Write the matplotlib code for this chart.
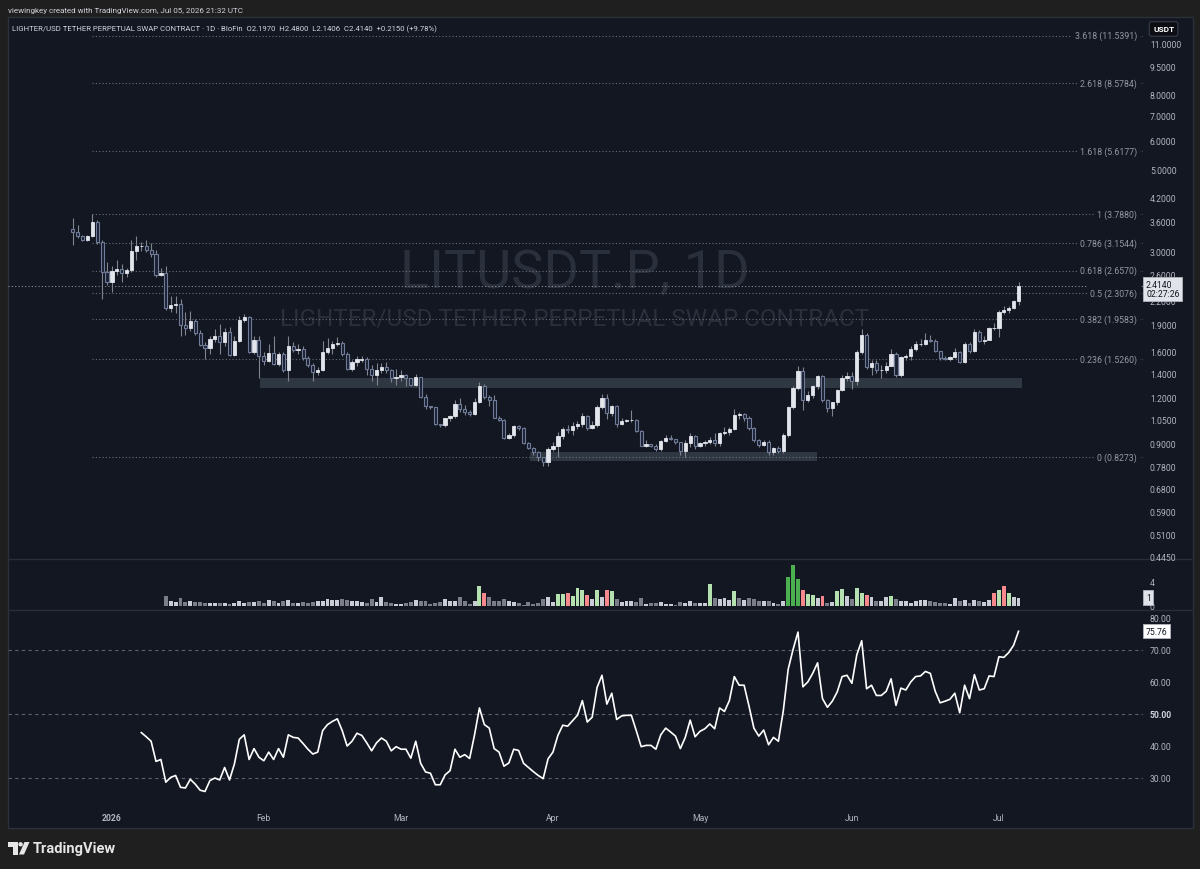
import numpy as np
import pandas as pd
import matplotlib
matplotlib.use("Agg")
import matplotlib.pyplot as plt
import matplotlib.dates as mdates
from matplotlib.patches import Rectangle, Polygon, Circle
from matplotlib.ticker import FixedLocator, NullLocator, FuncFormatter
from matplotlib.transforms import blended_transform_factory

plt.rcParams['font.family'] = ['Roboto', 'DejaVu Sans']

# ---- data ----
dates = pd.date_range('2025-12-24', periods=194, freq='D')

opens = [3.45, 3.38, 3.29, 3.22, 3.29, 3.59, 3.18, 2.63, 2.48, 2.65,
         2.68, 2.62, 2.66, 3.00, 3.09, 3.09, 3.03, 2.95, 2.59, 2.62,
         2.10, 2.14, 2.16, 1.89, 1.85, 1.94, 1.80, 1.67, 1.64, 1.73,
         1.76, 1.70, 1.81, 1.57, 1.71, 1.95, 1.99, 1.60, 1.72, 1.56,
         1.51, 1.59, 1.48, 1.58, 1.43, 1.66, 1.62, 1.63, 1.54, 1.47,
         1.41, 1.43, 1.60, 1.64, 1.68, 1.69, 1.58, 1.44, 1.50, 1.52,
         1.53, 1.44, 1.38, 1.43, 1.45, 1.425, 1.356, 1.37, 1.38, 1.356,
         1.30, 1.367, 1.203, 1.138, 1.129, 1.017, 1.013, 1.056, 1.073, 1.152,
         1.12, 1.10, 1.085, 1.167, 1.295, 1.203, 1.186, 1.06, 1.047, 0.935,
         0.951, 1.004, 0.992, 0.905, 0.879, 0.853, 0.826, 0.805, 0.871, 0.890,
         0.943, 0.988, 0.98, 1.004, 1.017, 1.073, 0.996, 1.013, 1.133, 1.196,
         1.092, 1.14, 1.021, 1.039, 1.043, 1.047, 0.975, 0.890, 0.897, 0.890,
         0.871, 0.918, 0.935, 0.928, 0.909, 0.860, 0.905, 0.947, 0.886, 0.905,
         0.909, 0.920, 0.903, 0.963, 0.970, 0.988, 1.078, 1.085, 1.056, 0.992,
         0.920, 0.893, 0.912, 0.853, 0.875, 0.861, 0.951, 1.133, 1.273, 1.419,
         1.181, 1.221, 1.289, 1.373, 1.181, 1.124, 1.166, 1.258, 1.356, 1.373,
         1.333, 1.595, 1.777, 1.455, 1.492, 1.425, 1.431, 1.467, 1.575, 1.384,
         1.549, 1.555, 1.628, 1.677, 1.684, 1.726, 1.712, 1.608, 1.536, 1.530,
         1.549, 1.601, 1.504, 1.684, 1.608, 1.815, 1.712, 1.726, 1.853, 1.860,
         2.056, 2.073, 2.108, 2.197]
highs = [3.68, 3.53, 3.31, 3.31, 3.788, 3.64, 3.22, 2.81, 2.74, 2.83,
         2.76, 2.70, 3.21, 3.29, 3.18, 3.21, 3.16, 3.02, 2.70, 2.73,
         2.27, 2.27, 2.23, 2.05, 2.06, 1.96, 1.83, 1.70, 1.77, 1.84,
         1.90, 1.85, 1.87, 1.77, 2.00, 2.02, 2.00, 1.77, 1.76, 1.60,
         1.68, 1.76, 1.60, 1.60, 1.76, 1.70, 1.68, 1.66, 1.56, 1.49,
         1.45, 1.71, 1.74, 1.71, 1.75, 1.71, 1.60, 1.52, 1.56, 1.56,
         1.55, 1.47, 1.49, 1.49, 1.50, 1.44, 1.44, 1.43, 1.39, 1.36,
         1.39, 1.37, 1.23, 1.14, 1.13, 1.02, 1.06, 1.08, 1.18, 1.20,
         1.15, 1.11, 1.20, 1.32, 1.31, 1.22, 1.22, 1.07, 1.05, 0.96,
         1.01, 1.01, 1.00, 0.91, 0.88, 0.86, 0.83, 0.88, 0.91, 0.97,
         1.00, 1.01, 1.03, 1.04, 1.09, 1.08, 1.04, 1.15, 1.23, 1.23,
         1.15, 1.15, 1.06, 1.05, 1.11, 1.05, 0.98, 0.92, 0.90, 0.90,
         0.92, 0.95, 0.95, 0.93, 0.91, 0.92, 0.96, 0.95, 0.91, 0.92,
         0.94, 0.96, 0.97, 1.00, 1.00, 1.12, 1.10, 1.09, 1.07, 1.00,
         0.93, 0.92, 0.92, 0.88, 0.89, 0.96, 1.14, 1.29, 1.46, 1.45,
         1.25, 1.30, 1.38, 1.38, 1.19, 1.17, 1.27, 1.38, 1.41, 1.41,
         1.62, 1.84, 1.80, 1.52, 1.52, 1.47, 1.50, 1.63, 1.60, 1.56,
         1.58, 1.66, 1.71, 1.73, 1.80, 1.78, 1.73, 1.61, 1.56, 1.56,
         1.64, 1.61, 1.70, 1.70, 1.84, 1.83, 1.76, 1.87, 1.92, 2.08,
         2.13, 2.13, 2.21, 2.48]
lows = [3.11, 3.25, 3.20, 3.20, 3.27, 3.14, 2.23, 2.43, 2.33, 2.58,
        2.48, 2.55, 2.63, 2.83, 3.00, 2.99, 2.90, 2.55, 2.57, 2.08,
        2.05, 2.04, 1.77, 1.78, 1.82, 1.78, 1.66, 1.53, 1.58, 1.70,
        1.58, 1.66, 1.56, 1.56, 1.70, 1.93, 1.59, 1.58, 1.36, 1.47,
        1.50, 1.47, 1.46, 1.41, 1.33, 1.60, 1.58, 1.52, 1.45, 1.33,
        1.38, 1.42, 1.58, 1.58, 1.66, 1.56, 1.43, 1.42, 1.46, 1.50,
        1.38, 1.33, 1.30, 1.40, 1.40, 1.32, 1.30, 1.33, 1.29, 1.29,
        1.29, 1.20, 1.12, 1.12, 1.01, 1.00, 1.00, 1.04, 1.06, 1.10,
        1.08, 1.07, 1.08, 1.16, 1.19, 1.14, 1.055, 1.04, 0.93, 0.93,
        0.94, 0.98, 0.90, 0.87, 0.84, 0.81, 0.785, 0.785, 0.86, 0.83,
        0.93, 0.96, 0.95, 0.99, 1.00, 0.98, 0.99, 1.00, 1.12, 1.05,
        1.07, 1.00, 1.01, 1.03, 1.03, 0.97, 0.885, 0.88, 0.88, 0.86,
        0.86, 0.91, 0.92, 0.90, 0.84, 0.83, 0.88, 0.87, 0.88, 0.89,
        0.90, 0.89, 0.89, 0.95, 0.95, 0.98, 1.05, 1.04, 0.98, 0.91,
        0.88, 0.89, 0.84, 0.84, 0.85, 0.85, 0.94, 1.12, 1.26, 1.11,
        1.17, 1.20, 1.27, 1.17, 1.10, 1.07, 1.15, 1.25, 1.33, 1.27,
        1.30, 1.58, 1.44, 1.38, 1.40, 1.36, 1.40, 1.46, 1.37, 1.37,
        1.52, 1.52, 1.61, 1.66, 1.67, 1.70, 1.60, 1.52, 1.52, 1.51,
        1.54, 1.49, 1.49, 1.59, 1.60, 1.70, 1.68, 1.72, 1.83, 1.75,
        2.03, 2.04, 2.09, 2.1406]
closes = [3.38, 3.29, 3.22, 3.29, 3.59, 3.18, 2.63, 2.48, 2.65, 2.68,
          2.62, 2.66, 3.00, 3.09, 3.09, 3.03, 2.95, 2.59, 2.62, 2.10,
          2.14, 2.16, 1.89, 1.85, 1.94, 1.80, 1.67, 1.64, 1.73, 1.76,
          1.70, 1.81, 1.57, 1.71, 1.95, 1.99, 1.60, 1.72, 1.56, 1.51,
          1.59, 1.48, 1.58, 1.43, 1.66, 1.62, 1.63, 1.54, 1.47, 1.41,
          1.43, 1.60, 1.64, 1.68, 1.69, 1.58, 1.44, 1.50, 1.53, 1.53,
          1.44, 1.38, 1.43, 1.45, 1.425, 1.356, 1.37, 1.38, 1.356, 1.30,
          1.367, 1.203, 1.138, 1.129, 1.017, 1.013, 1.056, 1.073, 1.152, 1.12,
          1.10, 1.085, 1.167, 1.295, 1.203, 1.186, 1.06, 1.047, 0.935, 0.951,
          1.004, 0.992, 0.905, 0.879, 0.853, 0.826, 0.805, 0.871, 0.890, 0.943,
          0.988, 0.98, 1.004, 1.017, 1.073, 0.996, 1.013, 1.133, 1.196, 1.092,
          1.14, 1.021, 1.039, 1.043, 1.047, 0.975, 0.890, 0.897, 0.890, 0.871,
          0.918, 0.935, 0.928, 0.909, 0.860, 0.905, 0.947, 0.886, 0.905, 0.909,
          0.920, 0.903, 0.963, 0.970, 0.988, 1.078, 1.085, 1.056, 0.992, 0.920,
          0.893, 0.912, 0.853, 0.875, 0.861, 0.951, 1.133, 1.273, 1.419, 1.181,
          1.221, 1.289, 1.373, 1.181, 1.124, 1.166, 1.258, 1.356, 1.373, 1.333,
          1.595, 1.777, 1.455, 1.492, 1.425, 1.431, 1.467, 1.575, 1.384, 1.549,
          1.555, 1.628, 1.677, 1.684, 1.726, 1.712, 1.608, 1.536, 1.530, 1.549,
          1.601, 1.504, 1.684, 1.608, 1.815, 1.712, 1.726, 1.853, 1.860, 2.056,
          2.073, 2.108, 2.197, 2.414]

vol_start = '2026-01-12'
volumes = [1.6, 0.9, 0.6, 1.4, 0.7, 0.8, 0.6, 0.6, 0.55, 0.5,
           0.45, 0.5, 0.45, 0.33, 0.5, 0.9, 0.45, 0.67, 0.6, 0.78,
           0.55, 1.0, 0.83, 0.5, 0.9, 1.0, 0.55, 0.55, 0.6, 0.5,
           0.67, 0.9, 0.9, 1.1, 1.0, 0.95, 1.1, 1.0, 0.9, 0.9,
           0.6, 0.45, 1.1, 0.67, 1.5, 0.6, 0.5, 0.4, 0.28, 0.5,
           0.67, 1.0, 0.78, 0.78, 0.28, 0.5, 0.67, 1.2, 0.9, 0.9,
           1.45, 0.78, 0.28, 0.9, 3.3, 2.2, 1.55, 0.9, 0.9, 1.2,
           0.9, 0.67, 0.5, 0.22, 0.67, 0.4, 0.5, 1.2, 1.5, 0.67,
           1.95, 2.05, 2.2, 1.7, 3.0, 2.6, 1.8, 1.1, 2.6, 1.5,
           2.6, 2.5, 1.2, 0.67, 0.9, 0.8, 0.67, 1.33, 0.4, 0.5,
           0.45, 0.67, 0.33, 0.28, 0.17, 0.67, 0.45, 0.78, 0.5, 0.5,
           0.5, 3.6, 1.33, 1.1, 1.33, 1.05, 2.5, 1.33, 1.0, 1.33,
           1.2, 0.78, 0.9, 0.78, 0.45, 0.28, 0.9, 4.9, 6.9, 4.55,
           2.7, 2.0, 1.8, 1.4, 1.7, 0.45, 0.67, 2.5, 2.8, 1.6,
           1.1, 2.95, 2.1, 1.8, 1.5, 0.78, 0.9, 1.5, 1.67, 1.1,
           0.78, 0.78, 0.5, 0.78, 1.0, 1.0, 0.78, 0.67, 0.45, 0.45,
           0.33, 1.33, 0.78, 1.0, 0.55, 1.0, 0.9, 0.67, 1.0, 2.1,
           2.6, 3.3, 2.1, 1.5, 1.4]
vol_kind = ['down', 'up', 'up', 'down', 'down', 'up', 'down', 'down', 'down', 'up',
            'up', 'down', 'up', 'down', 'up', 'up', 'up', 'down', 'up', 'down',
            'down', 'up', 'down', 'up', 'down', 'up', 'down', 'up', 'down', 'down',
            'down', 'up', 'up', 'up', 'up', 'up', 'down', 'down', 'up', 'up',
            'up', 'down', 'down', 'up', 'up', 'down', 'down', 'up', 'up', 'down',
            'down', 'up', 'down', 'down', 'down', 'down', 'down', 'up', 'up', 'up',
            'down', 'down', 'down', 'up', 'hi_up', 'hi_down', 'down', 'down', 'down', 'down',
            'up', 'up', 'down', 'down', 'down', 'down', 'down', 'down', 'up', 'up',
            'hi_up', 'hi_up', 'hi_down', 'hi_up', 'hi_up', 'hi_up', 'hi_down', 'up', 'hi_up', 'up',
            'hi_down', 'hi_up', 'down', 'up', 'up', 'up', 'down', 'down', 'up', 'down',
            'down', 'up', 'up', 'up', 'down', 'down', 'up', 'up', 'down', 'up',
            'up', 'hi_up', 'down', 'up', 'up', 'up', 'hi_up', 'down', 'up', 'down',
            'down', 'down', 'up', 'down', 'up', 'down', 'up', 'max_up', 'max_up', 'max_up',
            'hi_down', 'hi_up', 'hi_up', 'up', 'hi_down', 'down', 'up', 'hi_up', 'hi_up', 'up',
            'down', 'hi_up', 'hi_up', 'hi_down', 'up', 'down', 'up', 'up', 'hi_up', 'down',
            'up', 'up', 'up', 'up', 'up', 'up', 'down', 'down', 'down', 'down',
            'up', 'up', 'down', 'up', 'down', 'up', 'down', 'up', 'up', 'hi_down',
            'hi_up', 'hi_down', 'hi_up', 'up', 'up']

rsi_start = '2026-01-07'
rsi = [44.1, 42.8, 41.4, 35.1, 35.7, 28.6, 30.1, 30.7, 27.0, 26.8,
       29.5, 28.0, 26.1, 25.7, 29.1, 29.9, 29.3, 33.2, 29.3, 34.3,
       42.0, 43.4, 35.7, 39.1, 36.4, 35.3, 38.0, 35.7, 39.1, 36.4,
       43.4, 42.6, 42.4, 40.7, 38.9, 37.4, 38.0, 44.7, 46.6, 47.6,
       48.4, 44.7, 39.9, 41.4, 43.9, 43.2, 40.9, 38.4, 40.9, 42.4,
       41.4, 38.4, 39.7, 38.9, 38.9, 36.1, 41.4, 34.5, 31.8, 31.4,
       27.8, 27.8, 30.9, 32.2, 38.9, 36.4, 37.2, 36.0, 43.4, 51.8,
       46.6, 45.5, 39.1, 38.0, 33.6, 34.6, 38.9, 38.5, 34.5, 33.2,
       31.9, 30.7, 29.7, 35.9, 38.0, 43.2, 46.4, 46.1, 47.8,
       49.5, 54.1, 47.4, 48.9, 58.2, 62.0, 53.0, 56.4, 48.2, 49.3,
       49.5, 49.5, 44.7, 39.7, 40.1, 40.1, 38.9, 43.4, 45.5, 44.3,
       43.0, 39.1, 42.6, 48.0, 42.8, 44.5, 45.3, 46.8, 45.3, 51.8,
       50.7, 54.1, 61.6, 58.9, 58.9, 52.4, 45.5, 43.0, 44.9, 40.3,
       42.6, 41.4, 50.9, 63.9, 70.1, 75.5, 58.4, 59.9, 62.6, 65.9,
       54.7, 52.0, 53.9, 56.8, 61.6, 62.0, 59.5, 68.4, 72.8, 57.8,
       58.9, 55.7, 55.7, 57.0, 60.9, 52.6, 58.0, 57.4, 59.9, 61.6,
       61.8, 63.2, 62.6, 57.0, 53.4, 53.9, 54.5, 56.4, 50.3, 58.9,
       54.7, 62.2, 57.4, 57.8, 61.8, 61.6, 67.8, 67.6, 69.1, 71.4,
       75.76]

fib_ratios = [0, 0.236, 0.382, 0.5, 0.618, 0.786, 1, 1.618, 2.618, 3.618]
fib_prices = [0.8273, 1.5260, 1.9583, 2.3076, 2.6570, 3.1544, 3.7880, 5.6177, 8.5784, 11.5391]
fib_from = '2025-12-28'

zone_start = ['2026-01-31 06:00', '2026-03-27 06:00']
zone_end = ['2026-07-05 16:00', '2026-05-24 20:00']
zone_low = [1.276, 0.809]
zone_high = [1.358, 0.855]

price_ticks = [0.445, 0.51, 0.59, 0.68, 0.78, 0.9, 1.05, 1.2, 1.4, 1.6, 1.9, 2.2,
               2.6, 3.0, 3.6, 4.2, 5.0, 6.0, 7.0, 8.0, 9.5, 11.0]
rsi_ticks = [30, 40, 50, 60, 70, 80]
rsi_levels = [30, 50, 70]
month_ticks = ['2026-01-01', '2026-02-01', '2026-03-01', '2026-04-01',
               '2026-05-01', '2026-06-01', '2026-07-01']
month_labels = ['2026', 'Feb', 'Mar', 'Apr', 'May', 'Jun', 'Jul']

# ---- colours ----
OUTER = '#1f1f1f'
PANEL = '#131722'
GRID = '#2a2e39'
TXT = '#b2b5be'
UP = '#e3e5ec'
DOWN_FACE = '#1b2131'
DOWN_EDGE = '#6f7c99'
WICK = '#80848f'
WATERMARK = '#2a2f3c'
VOL_COL = {'up': '#c9ccd4', 'down': '#7b7e88', 'hi_up': '#b5e0b0',
           'max_up': '#4caf50', 'hi_down': '#f7898d'}

W, H = 1200, 870
fig = plt.figure(figsize=(12, 8.7), dpi=100)
fig.patch.set_facecolor(OUTER)


def px_axes(x0, y0, x1, y1):
    return fig.add_axes([x0 / W, 1 - y1 / H, (x1 - x0) / W, (y1 - y0) / H])


# pixel space background layer
bg = px_axes(0, 0, W, H)
bg.set_xlim(0, W)
bg.set_ylim(H, 0)
bg.axis('off')
bg.set_zorder(-5)
bg.add_patch(Rectangle((7.5, 17.5), 1185, 811, facecolor=PANEL, edgecolor='#2c303b', lw=1))
bg.hlines([560, 611], 8, 1192, color=GRID, lw=1)
bg.text(8, 11, 'viewingkey created with TradingView.com, Jul 05, 2026 21:32 UTC',
        color='#d1d4dc', fontsize=5.8, va='center')
bg.text(12, 29.5, 'LIGHTER/USD TETHER PERPETUAL SWAP CONTRACT · 1D · BloFin  O2.1970  H2.4800  '
        'L2.1406  C2.4140  +0.2150 (+9.78%)', color='#d1d4dc', fontsize=5.6, va='center')
bg.text(575, 273, 'LITUSDT.P, 1D', color=WATERMARK, fontsize=39,
        ha='center', va='center')
bg.text(575, 319, 'LIGHTER/USD TETHER PERPETUAL SWAP CONTRACT', color=WATERMARK, fontsize=17.5,
        ha='center', va='center')
# TradingView footer logo
bg.add_patch(Polygon([(8, 843), (17.5, 843), (17.5, 855.5), (13, 855.5), (13, 847.5), (8, 847.5)],
                     closed=True, fc='#e6e6e6', ec='none'))
bg.add_patch(Circle((20.6, 845.3), 2.2, fc='#e6e6e6', ec='none'))
bg.add_patch(Polygon([(24.5, 843), (29.5, 843), (24, 855.5), (19, 855.5)], closed=True,
                     fc='#e6e6e6', ec='none'))
bg.text(33, 849.5, 'TradingView', color='#e6e6e6', fontsize=10.5, fontweight='bold', va='center')

fig.text(1153 / W, 1 - 30 / H, 'USDT', color='white', fontsize=6, fontweight='bold', va='center',
         bbox=dict(boxstyle='round,pad=0.45,rounding_size=0.3', fc='#0c0e14', ec='#3a3e4a', lw=0.8))

x = mdates.date2num(dates)
x0 = x[0]
xlim = (x0 - 13.2, x0 + 218.4)

# ---- price pane ----
ax = px_axes(8, 18, 1143, 560)
ax.set_facecolor('none')
ax.set_yscale('log')
ax.set_ylim(0.438, 12.96)
ax.set_xlim(*xlim)
for s in ax.spines.values():
    s.set_visible(False)
ax.set_xticks([])
ax.yaxis.set_major_locator(FixedLocator(price_ticks))
ax.yaxis.set_minor_locator(NullLocator())
ax.yaxis.set_major_formatter(FuncFormatter(lambda v, p: f'{v:.4f}'))
ax.tick_params(axis='y', which='both', length=0, pad=5, labelsize=6.2, labelcolor=TXT,
               left=False, labelleft=False, right=True, labelright=True)

for zs, ze, zl, zh in zip(zone_start, zone_end, zone_low, zone_high):
    xs = mdates.date2num(pd.Timestamp(zs))
    xe = mdates.date2num(pd.Timestamp(ze))
    ax.add_patch(Rectangle((xs, zl), xe - xs, zh - zl, fc='#2e3742', ec='none', zorder=1))

xf = mdates.date2num(pd.Timestamp(fib_from))
ax.hlines(fib_prices, xf, xlim[1], colors='#6a6e79', linestyles=(0, (1, 2)), lw=0.8, zorder=2)
lab_tr = blended_transform_factory(ax.transAxes, ax.transData)
for r, p in zip(fib_ratios, fib_prices):
    ax.text(0.9947, p, f'{r:g} ({p:.4f})', transform=lab_tr, ha='right', va='center',
            fontsize=6.3, color='#9598a1', zorder=6,
            bbox=dict(boxstyle='square,pad=0.35', fc=PANEL, ec='none'))

ax.axhline(closes[-1], color='#8a8e99', ls=(0, (1, 2)), lw=0.8, zorder=2)

o = np.array(opens)
h = np.array(highs)
l = np.array(lows)
c = np.array(closes)
up = c >= o
lo = np.minimum(o, c)
hi = np.maximum(o, c)
ax.vlines(x, l, h, color=WICK, lw=0.8, zorder=3)
ax.bar(x[up], hi[up] - lo[up], bottom=lo[up], width=0.68, color=UP, edgecolor=UP,
       lw=0.6, zorder=4)
ax.bar(x[~up], hi[~up] - lo[~up], bottom=lo[~up], width=0.62, color=DOWN_FACE,
       edgecolor=DOWN_EDGE, lw=0.8, zorder=4)

ax.annotate(f'{closes[-1]:.4f}\n02:27:26', xy=(1.0, closes[-1]), xycoords=lab_tr,
            xytext=(2.2, 4.2), textcoords='offset points', ha='left', va='top',
            fontsize=6.2, color='#131722', linespacing=1.0, annotation_clip=False, zorder=20,
            bbox=dict(boxstyle='square,pad=0.3', fc='#e1e3ea', ec='#b2b5be', lw=0.6))

# ---- volume pane ----
axv = px_axes(8, 560, 1143, 611)
axv.set_facecolor('none')
axv.set_xlim(*xlim)
axv.set_ylim(-0.67, 7.83)
for s in axv.spines.values():
    s.set_visible(False)
axv.set_xticks([])
xv = mdates.date2num(pd.date_range(vol_start, periods=len(volumes), freq='D'))
axv.bar(xv, volumes, width=0.8, color=[VOL_COL[k] for k in vol_kind], lw=0)
axv.set_yticks([0, 4])
axv.set_yticklabels(['0', '4'])
axv.tick_params(axis='y', length=0, pad=5, labelsize=6.2, labelcolor=TXT,
                left=False, labelleft=False, right=True, labelright=True)
vtr = blended_transform_factory(axv.transAxes, axv.transData)
axv.annotate('1', xy=(1.0, volumes[-1]), xycoords=vtr, xytext=(2.2, 0),
             textcoords='offset points', ha='left', va='center', fontsize=6.2, color='#131722',
             annotation_clip=False, zorder=20,
             bbox=dict(boxstyle='square,pad=0.3', fc='#e1e3ea', ec='#b2b5be', lw=0.6))

# ---- RSI pane ----
axr = px_axes(8, 611, 1143, 828)
axr.set_facecolor('none')
axr.set_xlim(*xlim)
axr.set_ylim(14.6, 82.4)
for s in axr.spines.values():
    s.set_visible(False)
axr.set_xticks([])
axr.hlines(rsi_levels, xlim[0], xlim[1], colors='#5d606b', linestyles=(0, (3, 3)), lw=0.8)
xr = mdates.date2num(pd.date_range(rsi_start, periods=len(rsi), freq='D'))
axr.plot(xr, rsi, color='white', lw=1.2)
axr.set_yticks(rsi_ticks)
axr.set_yticklabels([f'{v:.2f}' for v in rsi_ticks])
axr.tick_params(axis='y', length=0, pad=5, labelsize=6.2, labelcolor=TXT,
                left=False, labelleft=False, right=True, labelright=True)
for t in axr.get_yticklabels():
    if t.get_text() == '50.00':
        t.set_fontweight('bold')
        t.set_color('#d1d4dc')
rtr = blended_transform_factory(axr.transAxes, axr.transData)
axr.annotate(f'{rsi[-1]:.2f}', xy=(1.0, rsi[-1]), xycoords=rtr, xytext=(2.2, 0),
             textcoords='offset points', ha='left', va='center', fontsize=6.2, color='#131722',
             annotation_clip=False, zorder=20,
             bbox=dict(boxstyle='square,pad=0.3', fc='white', ec='#b2b5be', lw=0.6))

ttr = blended_transform_factory(axr.transData, axr.transAxes)
for d, lab in zip(month_ticks, month_labels):
    axr.text(mdates.date2num(pd.Timestamp(d)), 0.046, lab, transform=ttr, ha='center',
             va='center', fontsize=6.2, color=TXT,
             fontweight='bold' if lab == '2026' else 'normal')

fig.savefig('out.png', dpi=100, facecolor=fig.get_facecolor())
